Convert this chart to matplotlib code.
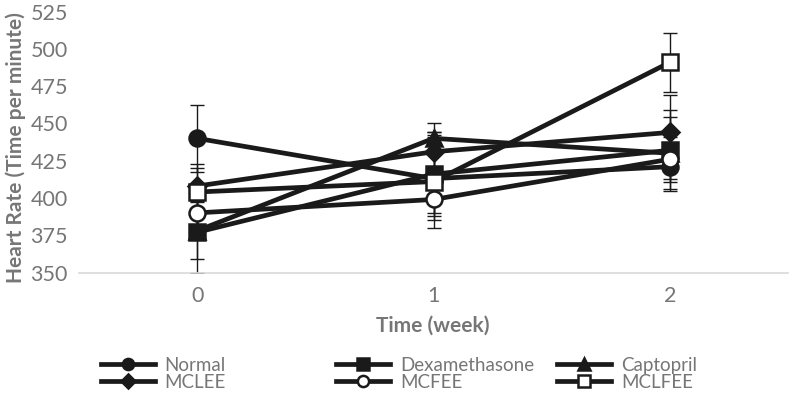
import matplotlib
matplotlib.use('agg')
import matplotlib.pyplot as plt

plt.rcParams["font.family"] = ["Lato", "DejaVu Sans"]

# Data
weeks = [0, 1, 2]
groups = ["Normal", "Dexamethasone", "Captopril", "MCLEE", "MCFEE", "MCLFEE"]

normal = [440, 413, 421]
dexamethasone = [377, 416, 432]
captopril = [378, 440, 430]
mclee = [408, 431, 444]
mcfee = [390, 399, 426]
mclfee = [404, 411, 491]

normal_err = [22.5, 28, 8]
dexamethasone_err = [27, 28, 27]
captopril_err = [19, 10, 24]
mclee_err = [15, 13, 25]
mcfee_err = [8, 9, 15]
mclfee_err = [16, 31, 20]

y_ticks = [350, 375, 400, 425, 450, 475, 500, 525]

series = [normal, dexamethasone, captopril, mclee, mcfee, mclfee]
errors = [normal_err, dexamethasone_err, captopril_err, mclee_err, mcfee_err, mclfee_err]
markers = ['o', 's', '^', 'D', 'o', 's']
faces = ['#1a1a1a', '#1a1a1a', '#1a1a1a', '#1a1a1a', 'white', 'white']
sizes = [11.5, 11.5, 11.5, 9.5, 11.5, 11.5]

line_col = '#1a1a1a'
text_col = '#767676'

fig = plt.figure(figsize=(7.89, 4.01), dpi=100)
ax = fig.add_axes([0.1, 0.3204, 0.899, 0.6506])

handles = []
for k in range(len(series)):
    ax.errorbar(weeks, series[k], yerr=errors[k], fmt='none', ecolor=line_col,
                elinewidth=1.0, capsize=5, capthick=1.0, zorder=2)
for k in range(len(series)):
    ln, = ax.plot(weeks, series[k], color=line_col, linewidth=3.4,
                  marker=markers[k], markersize=sizes[k],
                  markerfacecolor=faces[k], markeredgecolor=line_col,
                  markeredgewidth=1.8, zorder=3 + k, label=groups[k])
    handles.append(ln)

ax.set_xlim(-0.5, 2.5)
ax.set_ylim(350, 525)
ax.set_xticks(weeks)
ax.set_yticks(y_ticks)
ax.tick_params(axis='both', length=0, labelsize=15.5, colors=text_col)
ax.tick_params(axis='x', pad=10)
ax.tick_params(axis='y', pad=8)
for s in ['top', 'right', 'left']:
    ax.spines[s].set_visible(False)
ax.spines['bottom'].set_color('#d9d9d9')
ax.spines['bottom'].set_linewidth(1.2)

ax.set_ylabel('Heart Rate (Time per minute)', fontsize=15, fontweight='bold',
              color=text_col)
ax.yaxis.set_label_coords(-0.075, 0.48)
fig.text(0.549, 0.187, 'Time (week)', ha='center', va='center', fontsize=15,
         fontweight='bold', color=text_col)

# legend in three columns placed like the original
col_x = [0.128, 0.426, 0.706]
for c in range(3):
    hs = [handles[c], handles[c + 3]]
    leg = fig.legend(hs, [h.get_label() for h in hs], loc='upper left',
                     bbox_to_anchor=(col_x[c], 0.11), frameon=False,
                     fontsize=13.5, handlelength=2.9, handletextpad=0.5,
                     labelspacing=0.0, borderpad=0, borderaxespad=0,
                     labelcolor=text_col, markerscale=0.7)

fig.savefig('out.png', dpi=100)
